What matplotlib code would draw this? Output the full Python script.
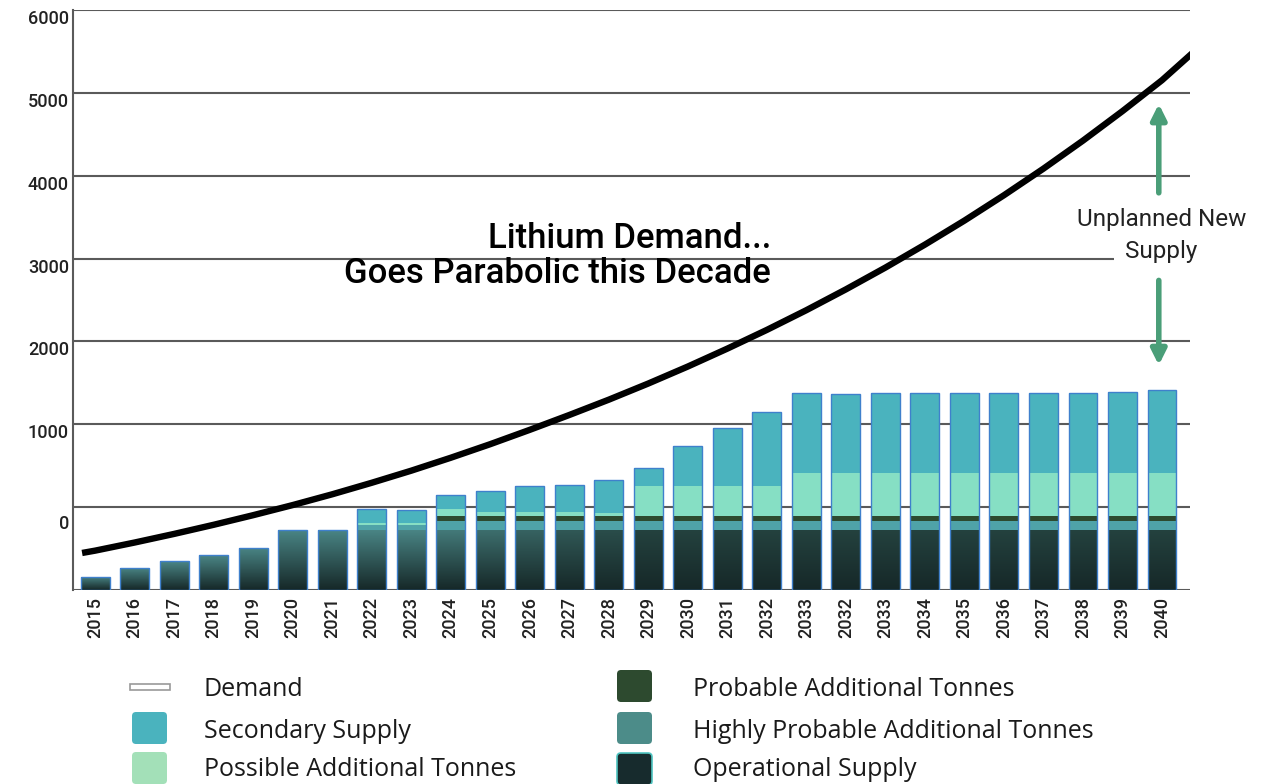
import matplotlib
matplotlib.use("Agg")
import matplotlib.pyplot as plt
import matplotlib.transforms as mtransforms
from matplotlib.colors import LinearSegmentedColormap, to_rgb
from matplotlib.patches import FancyBboxPatch, Rectangle
import numpy as np

# ---- data (y scale: bottom line = 0, each grid step = 1000) ----
year_labels = ['2015', '2016', '2017', '2018', '2019', '2020', '2021', '2022', '2023',
               '2024', '2025', '2026', '2027', '2028', '2029', '2030', '2031', '2032',
               '2033', '2032', '2033', '2034', '2035', '2036', '2037', '2038', '2039', '2040']

operational = [157, 266, 350, 422, 507, 730, 730] + [730] * 21
highly_probable = [0] * 7 + [55, 55] + [100] * 19
probable = [0] * 9 + [62] * 19
possible = [0] * 7 + [25, 25, 85, 50, 50, 50, 40, 363, 363, 363, 363] + [520] * 10
secondary = [0] * 7 + [167, 155, 169, 253, 313, 325, 396, 217, 483, 700, 893,
                       966, 953, 966, 966, 966, 966, 966, 966, 978, 1002]

# demand curve, read at bar positions (plus the two ends of the drawn curve)
demand_x = [-0.33] + list(range(28)) + [27.77]
demand = [447, 475, 573, 677, 787, 903, 1025, 1155, 1294, 1440, 1596, 1760, 1933,
          2112, 2297, 2492, 2697, 2913, 3139, 3377, 3628, 3891, 4168, 4458, 4764,
          5085, 5423, 5779, 6152, 6480]

ytick_vals = [0, 1000, 2000, 3000, 4000, 5000, 6000, 7000]
ytick_labels = ['', '0', '1000', '2000', '3000', '4000', '5000', '6000']

# ---- colours ----
c_secondary = '#4ab3be'
c_possible = '#86dfc4'
c_probable = '#2d4a2f'
c_highprob = '#4fa3a8'
c_oper_bot = '#162828'
c_edge = '#3f80cc'
c_grid = '#5a5a5a'
c_arrow = '#4a9e78'

plt.rcParams['font.family'] = ['Roboto', 'DejaVu Sans']

fig = plt.figure(figsize=(12.74, 7.84), dpi=100)
ax = fig.add_axes([73 / 1274, 1 - 590 / 784, (1190 - 73) / 1274, 580 / 784])

x = np.arange(len(year_labels))
w = 0.73

# grid
for yv in ytick_vals:
    ax.axhline(yv, color=c_grid, lw=1.5, zorder=0)

# operational bars with a vertical gradient
oper_bars = ax.bar(x, operational, width=w, color='none', zorder=2)
for i, patch in enumerate(oper_bars.patches):
    t = min(max((i - 8) / 6, 0), 1)
    top = (1 - t) * np.array(to_rgb('#4a8686')) + t * np.array(to_rgb('#24423f'))
    cmap = LinearSegmentedColormap.from_list('g', [to_rgb(c_oper_bot), top])
    grad = np.linspace(0, 1, 100).reshape(-1, 1)
    im = ax.imshow(grad, cmap=cmap, origin='lower', aspect='auto',
                   extent=[x[i] - w / 2, x[i] + w / 2, 0, operational[i]], zorder=2)
    im.set_clip_path(patch)

bottom = np.array(operational, dtype=float)
for vals, col in [(highly_probable, c_highprob), (probable, c_probable),
                  (possible, c_possible), (secondary, c_secondary)]:
    ax.bar(x, vals, width=w, bottom=bottom, color=col, zorder=3, linewidth=0)
    bottom = bottom + np.array(vals)

# outline of full bars
ax.bar(x, bottom, width=w, fill=False, edgecolor=c_edge, linewidth=1.0, zorder=4)

# demand curve
ax.plot(demand_x, demand, color='black', lw=4.6, solid_capstyle='butt',
        solid_joinstyle='round', zorder=5)

ax.set_xlim(-0.56, 27.71)
ax.set_ylim(0, 7000)

for s in ['top', 'right', 'bottom']:
    ax.spines[s].set_visible(False)
ax.spines['left'].set_color(c_grid)
ax.spines['left'].set_linewidth(1.5)

ax.set_xticks(x)
ax.set_xticklabels(year_labels, rotation=90, fontsize=13, fontweight='medium', color='#222222')
ax.set_yticks(ytick_vals)
ax.set_yticklabels(ytick_labels, fontsize=13, fontweight='medium', color='#222222')
ax.tick_params(axis='both', length=0)
ax.tick_params(axis='x', pad=5)
ax.tick_params(axis='y', pad=3)
for lab in ax.get_yticklabels():
    dy = -15 if lab.get_text() == '0' else -7
    lab.set_transform(lab.get_transform() + mtransforms.ScaledTranslation(0, dy / 100, fig.dpi_scale_trans))

# headline
ax.text(0.625, 0.606, 'Lithium Demand...', transform=ax.transAxes, ha='right', va='center',
        fontsize=25, fontweight='medium', color='black', zorder=6)
ax.text(0.625, 0.545, 'Goes Parabolic this Decade', transform=ax.transAxes, ha='right', va='center',
        fontsize=25, fontweight='medium', color='black', zorder=6)

# unplanned new supply annotation
ax.text(26.99, 4466, 'Unplanned New', ha='center', va='center', fontsize=17.5, color='#222222',
        zorder=6, clip_on=False)
ax.text(26.99, 4080, 'Supply', ha='center', va='center', fontsize=17.5, color='#222222', zorder=6,
        clip_on=False, bbox=dict(facecolor='white', edgecolor='none', pad=8))
ax.annotate('', xy=(26.92, 5900), xytext=(26.92, 4760),
            arrowprops=dict(arrowstyle='-|>,head_width=0.45,head_length=0.9', color=c_arrow, lw=4),
            zorder=6)
ax.annotate('', xy=(26.92, 2680), xytext=(26.92, 3770),
            arrowprops=dict(arrowstyle='-|>,head_width=0.45,head_length=0.9', color=c_arrow, lw=4),
            zorder=6)

# legend (drawn in pixel space of the figure)
lg = fig.add_axes([0, 0, 1, 1], zorder=-1)
lg.set_xlim(0, 1274)
lg.set_ylim(784, 0)
lg.axis('off')
lg.add_patch(Rectangle((130, 684), 40, 6, facecolor='white', edgecolor='#999999', lw=1.2))
legend_boxes = [((132, 712), c_secondary, 'none'), ((132, 752), '#a3e0b8', 'none'),
                ((617, 670), c_probable, 'none'), ((617, 712), '#4c8c89', 'none'),
                ((617, 753), '#172b2d', '#4ec4c0')]
for (px, py), fc, ec in legend_boxes:
    lg.add_patch(FancyBboxPatch((px + 3, py + 3), 29, 26, boxstyle='round,pad=3,rounding_size=4',
                                facecolor=fc, edgecolor=ec, lw=1.2))
legend_texts = [((204, 689), 'Demand'), ((204, 731), 'Secondary Supply'),
                ((204, 770), 'Possible Additional Tonnes'), ((693, 689), 'Probable Additional Tonnes'),
                ((693, 731), 'Highly Probable Additional Tonnes'), ((693, 770), 'Operational Supply')]
for (tx, ty), txt in legend_texts:
    lg.text(tx, ty, txt, ha='left', va='center', fontsize=18, color='#1a1a1a', family='Open Sans')

fig.savefig('out.png', dpi=100)
